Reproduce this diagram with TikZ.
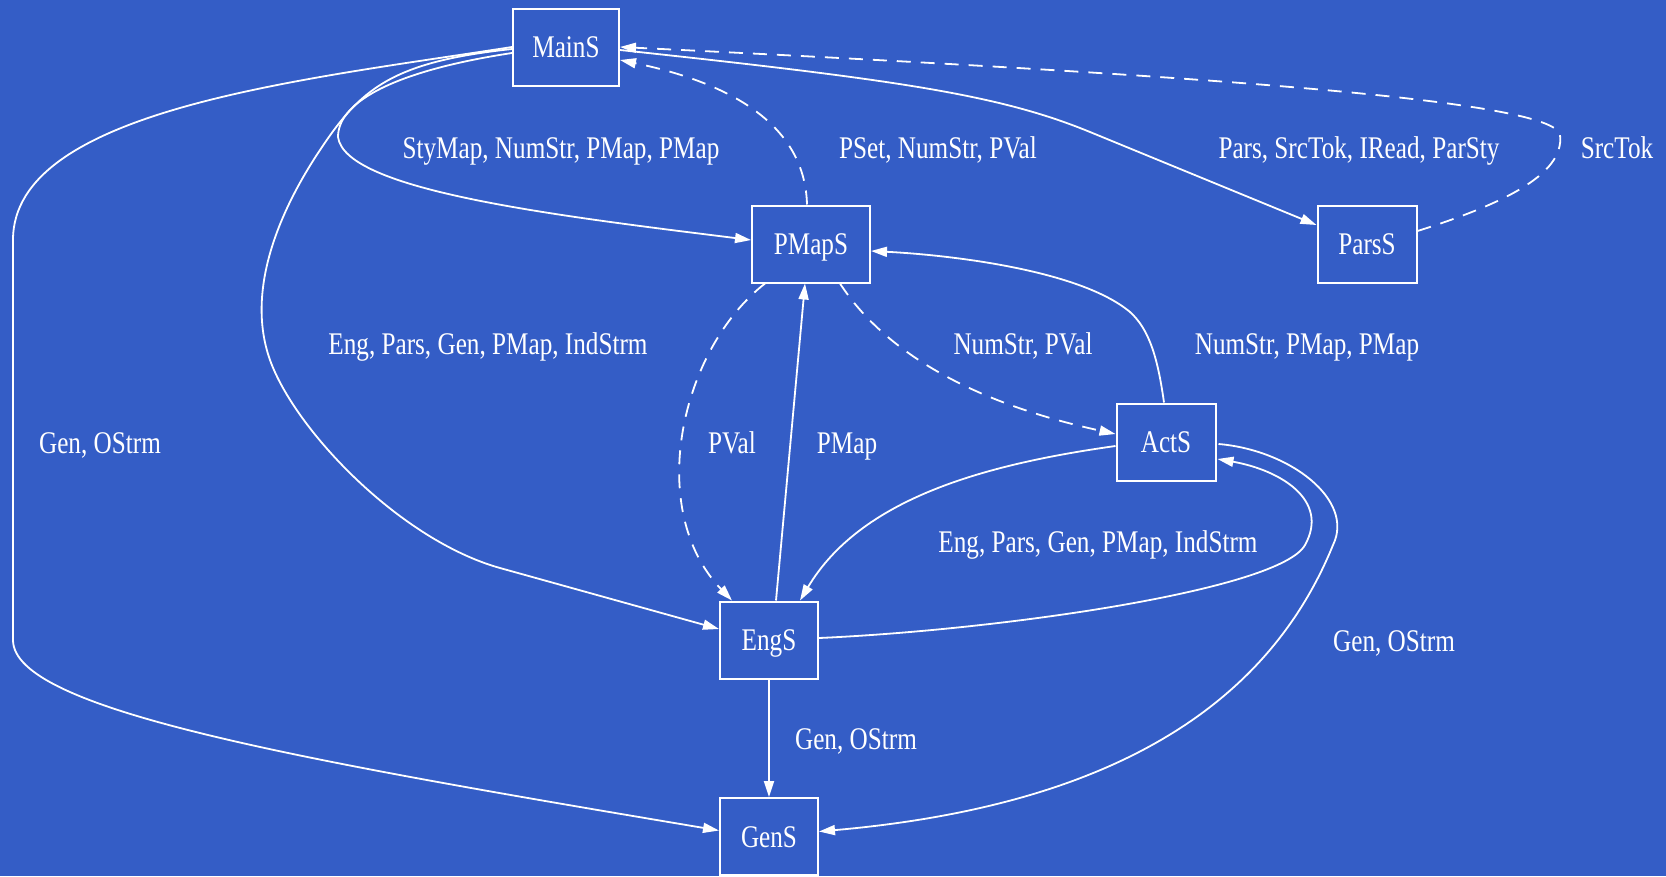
\documentclass[tikz,border=0pt]{standalone}
\usepackage{fontspec}
\setmainfont{Liberation Serif}[FakeStretch=0.8]
\usetikzlibrary{arrows.meta,calc}
\definecolor{bg}{RGB}{52,93,198}
\begin{document}
\begin{tikzpicture}[x=1pt,y=-1pt,
  every node/.style={text=white, font=\fontsize{31.5}{36}\selectfont},
  box/.style={draw=white, line width=2pt, inner sep=0pt, minimum height=77pt,
              text height=21pt, text depth=0pt},
  lbl/.style={anchor=base, inner sep=0pt},
  link/.style={draw=white, line width=1.8pt, -{Triangle[length=16pt,width=10pt]}},
  dashlink/.style={link, dash pattern=on 14pt off 10pt}]

\fill[bg] (0,0) rectangle (1666,876);
\useasboundingbox (0,0) rectangle (1666,876);

% modules
\node[box, minimum width=106pt] (MainS) at (566,47)    {MainS};
\node[box, minimum width=118pt] (PMapS) at (811,244)   {PMapS};
\node[box, minimum width=99pt]  (ParsS) at (1367,244)  {ParsS};
\node[box, minimum width=99pt]  (ActS)  at (1166,442)  {ActS};
\node[box, minimum width=98pt]  (EngS)  at (769,640)   {EngS};
\node[box, minimum width=98pt]  (GenS)  at (769,836.5) {GenS};

% MainS -> PMapS
\draw[link] ($(MainS.west)+(0,6)$) .. controls (400,70) and (338,100) .. (338,137)
  .. controls (345,190) and (550,215) .. ($(PMapS.west)+(0,-4)$);
% MainS -> EngS
\draw[link] ($(MainS.west)+(0,2)$) .. controls (390,62) and (360,90) .. (320,150)
  .. controls (280,210) and (245,290) .. (270,360)
  .. controls (295,430) and (400,540) .. (500,568) -- ($(EngS.west)+(0,-11)$);
% MainS -> GenS
\draw[link] (MainS.west) .. controls (300,80) and (13,110) .. (13,240) -- (13,640)
  .. controls (13,710) and (300,760) .. ($(GenS.west)+(0,-6)$);
% PMapS -> MainS
\draw[dashlink] ($(PMapS.north)+(-4,0)$) .. controls (805,130) and (740,85) .. ($(MainS.east)+(0,13)$);
% MainS -> ParsS
\draw[link] ($(MainS.east)+(0,3)$) .. controls (900,80) and (1000,95) .. (1090,132)
  -- ($(ParsS.west)+(0,-19)$);
% ParsS -> MainS
\draw[dashlink] ($(ParsS.east)+(0,-13)$) .. controls (1500,205) and (1565,175) .. (1560,135)
  .. controls (1555,100) and (1200,75) .. (MainS.east);
% PMapS -> EngS
\draw[dashlink] ($(PMapS.south west)+(14,0)$) .. controls (680,350) and (645,510) .. ($(EngS.north west)+(13,0)$);
% EngS -> PMapS
\draw[link] ($(EngS.north)+(7,0)$) -- ($(PMapS.south)+(-6,0)$);
% PMapS -> ActS
\draw[dashlink] ($(PMapS.south east)+(-31,0)$) .. controls (880,345) and (960,400) .. ($(ActS.west)+(0,-8)$);
% ActS -> PMapS
\draw[link] ($(ActS.north)+(-2,0)$) .. controls (1158,360) and (1150,330) .. (1130,312)
  .. controls (1080,270) and (950,255) .. ($(PMapS.east)+(0,7)$);
% ActS -> EngS
\draw[link] ($(ActS.west)+(0,4)$) .. controls (980,465) and (860,500) .. ($(EngS.north east)+(-19,0)$);
% EngS -> ActS
\draw[link] ($(EngS.east)+(0,-2)$) .. controls (1000,630) and (1280,590) .. (1305,545)
  .. controls (1330,500) and (1280,470) .. ($(ActS.east)+(1,17)$);
% ActS -> GenS
\draw[link] ($(ActS.east)+(2,2)$) .. controls (1290,450) and (1355,500) .. (1333,545)
  .. controls (1270,700) and (1120,805) .. ($(GenS.east)+(0,-5)$);
% EngS -> GenS
\draw[link] (EngS.south) -- (GenS.north);

% edge labels
\node[lbl] (l1)  at (561,158.5)  {StyMap, NumStr, PMap, PMap};
\node[lbl] (l2)  at (938,158.5)  {PSet, NumStr, PVal};
\node[lbl] (l3)  at (1359,158.5) {Pars, SrcTok, IRead, ParSty};
\node[lbl] (l4)  at (1617,158.5) {SrcTok};
\node[lbl] (l5)  at (488,354.5)  {Eng, Pars, Gen, PMap, IndStrm};
\node[lbl] (l6)  at (1023,354.5) {NumStr, PVal};
\node[lbl] (l7)  at (1307,354.5) {NumStr, PMap, PMap};
\node[lbl] (l8)  at (100,453.5)  {Gen, OStrm};
\node[lbl] (l9)  at (732,453.5)  {PVal};
\node[lbl] (l10) at (847,453.5)  {PMap};
\node[lbl] (l11) at (1098,552.5) {Eng, Pars, Gen, PMap, IndStrm};
\node[lbl] (l12) at (1394,651.5) {Gen, OStrm};
\node[lbl] (l13) at (856,749.5)  {Gen, OStrm};
\end{tikzpicture}
\end{document}
